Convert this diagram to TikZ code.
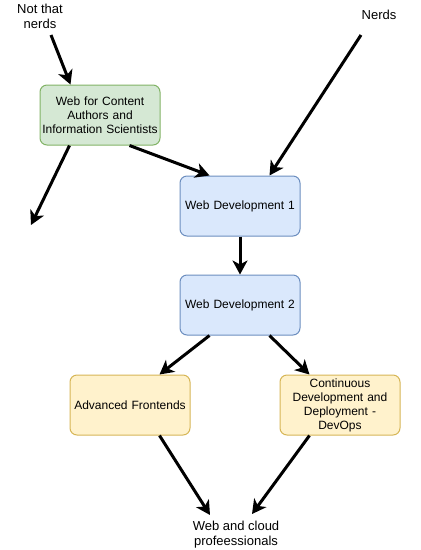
\documentclass[tikz,border=0pt]{standalone}
\usepackage{fontspec}
\setmainfont{Liberation Sans}
\usetikzlibrary{arrows.meta,calc}
\definecolor{gfill}{HTML}{D5E8D4}
\definecolor{gline}{HTML}{82B366}
\definecolor{bfill}{HTML}{DAE8FC}
\definecolor{bline}{HTML}{6C8EBF}
\definecolor{yfill}{HTML}{FFF2CC}
\definecolor{yline}{HTML}{D6B656}
\tikzset{
  box/.style={draw, line width=1pt, rounded corners=7pt, minimum width=120pt, minimum height=60pt,
    text width=116pt, align=center, inner sep=0pt, font=\fontsize{12}{14}\selectfont},
  greenbox/.style={box, fill=gfill, draw=gline},
  bluebox/.style={box, fill=bfill, draw=bline},
  yellowbox/.style={box, fill=yfill, draw=yline},
  label/.style={align=center, inner sep=0pt, font=\fontsize{13}{15}\selectfont},
  arr/.style={line width=3pt, -{Stealth[length=14pt,width=15pt,inset=4pt]}},
}
\begin{document}
\begin{tikzpicture}[x=1pt,y=-1pt]
\useasboundingbox (0,0) rectangle (421,550);
\node[label] (ntn) at (40,16) {Not that\\nerds};
\node[label] (nerds) at (379,15) {Nerds};
\node[greenbox] (green) at (100,115) {Web for Content\\Authors and\\Information Scientists};
\node[bluebox] (wd1) at (240,206) {Web Development 1};
\node[bluebox] (wd2) at (240,305) {Web Development 2};
\node[yellowbox] (af) at (130,405) {Advanced Frontends};
\node[yellowbox] (cd) at (340,405) {Continuous\\Development and\\Deployment -\\DevOps};
\node[label] (web) at (236,535) {Web and cloud\\profeessionals};
\coordinate (free) at (31,225);

\draw[arr] ($(ntn.center)+(11,19)$) -- ($(green.north west)+(31,0)$);
\draw[arr] ($(nerds.center)+(-18,20)$) -- ($(wd1.north west)+(90,0)$);
\draw[arr] ($(green.south west)+(30,0)$) -- (free);
\draw[arr] ($(green.south west)+(90,0)$) -- ($(wd1.north west)+(30,0)$);
\draw[arr] (wd1.south) -- (wd2.north);
\draw[arr] ($(wd2.south west)+(30,0)$) -- ($(af.north west)+(90,0)$);
\draw[arr] ($(wd2.south west)+(90,0)$) -- ($(cd.north west)+(30,0)$);
\draw[arr] ($(af.south west)+(90,0)$) -- ($(web.center)+(-26,-20)$);
\draw[arr] ($(cd.south west)+(30,0)$) -- ($(web.center)+(16,-21)$);
\end{tikzpicture}
\end{document}
